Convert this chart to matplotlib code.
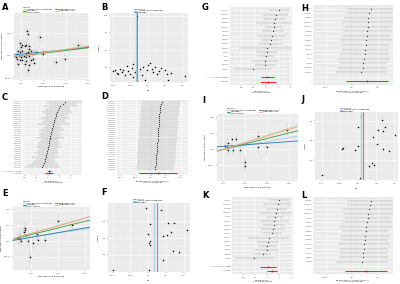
import numpy as np
import matplotlib.pyplot as plt
from matplotlib.ticker import AutoMinorLocator

# ---------------- data ----------------
methods = ["Inverse variance weighted", "MR Egger", "Simple mode",
           "Weighted median", "Weighted mode"]
method_cols = ["#a6cee3", "#1f78b4", "#b2df8a", "#33a02c", "#fb9a99"]

# A: scatter (SNP effects)
a_x = [0.005, 0.006, 0.017, -0.001, 0.001, 0.003, 0.004, 0.000, 0.007, 0.007,
       -0.003, -0.001, 0.001, 0.004, 0.006, 0.009, -0.004, -0.002, 0.000, 0.002,
       0.004, 0.007, 0.010, -0.004, -0.001, 0.001, 0.004, 0.009, 0.010, -0.003,
       0.003, 0.007, 0.011, 0.019, 0.031, 0.039, 0.051, 0.013, -0.005, 0.006]
a_y = [0.022, 0.019, 0.017, 0.011, 0.010, 0.009, 0.010, 0.0075, 0.009, 0.006,
       0.0046, 0.0032, 0.0046, 0.0023, 0.0032, 0.0046, 0.0017, 0.0003, -0.0012, 0.0003,
       -0.0012, 0.0003, 0.0017, -0.0026, -0.004, -0.0035, -0.0049, -0.004, -0.0026, -0.007,
       -0.0075, -0.0084, -0.0064, 0.0017, -0.0055, -0.0026, 0.010, 0.0032, -0.0012, -0.0128]
a_sx = [0.002, 0.002, 0.003, 0.002, 0.002, 0.002, 0.002, 0.002, 0.002, 0.002,
        0.002, 0.002, 0.002, 0.002, 0.002, 0.003, 0.002, 0.002, 0.002, 0.002,
        0.002, 0.002, 0.003, 0.002, 0.002, 0.002, 0.002, 0.002, 0.003, 0.002,
        0.002, 0.002, 0.003, 0.003, 0.004, 0.004, 0.005, 0.003, 0.002, 0.002]
a_sy = [0.004, 0.005, 0.005, 0.004, 0.004, 0.003, 0.004, 0.004, 0.003, 0.004,
        0.003, 0.004, 0.003, 0.004, 0.003, 0.004, 0.004, 0.003, 0.004, 0.003,
        0.004, 0.003, 0.004, 0.004, 0.003, 0.004, 0.003, 0.004, 0.003, 0.004,
        0.003, 0.004, 0.003, 0.004, 0.004, 0.004, 0.004, 0.003, 0.004, 0.005]
a_slopes = [0.13, 0.10, 0.15, 0.12, 0.14]
a_egger_int = 0.0015

# B: funnel
b_iv = [-0.32, -1.01, -0.94, -0.89, -0.85, -0.80, -0.75, -0.70, -0.65, -0.61,
        -0.56, -0.51, -0.46, -0.41, -0.37, -0.41, -0.22, -0.17, -0.13, -0.08,
        -0.03, 0.02, 0.07, 0.12, 0.16, 0.21, 0.26, 0.34, 0.40, 0.50,
        0.55, 0.60, 0.69, 1.08]
b_prec = [99, 19.7, 21, 17.3, 15.4, 23.6, 18.8, 22, 14, 27.4,
          20.2, 16.3, 24.5, 30.8, 18.8, 11.5, 23.6, 14, 26, 7,
          21, 28.4, 32, 23.6, 18.8, 26, 16.3, 20, 24.5, 21,
          16.3, 7, 17.3, 12.5]
b_ivw, b_egger = -0.34, -0.30

# C: forest (single SNP)
c_snps = ["rs10069690", "rs1027498", "rs11085727", "rs11204971", "rs11574637",
          "rs12051795", "rs12422149", "rs12627379", "rs13107325", "rs1354034",
          "rs1412445", "rs1552224", "rs16937368", "rs17514846", "rs1800562",
          "rs2075650", "rs2229616", "rs2476601", "rs2651899", "rs2815279",
          "rs3184504", "rs34536443", "rs3764261", "rs4246215", "rs4420638",
          "rs4665972", "rs4788084", "rs6060701", "rs6546932", "rs6930777",
          "rs7310615", "rs7528684", "rs9271366", "rs9974367"]
c_b = [1.52, 1.30, 1.12, 1.00, 0.90, 0.82, 0.75, 0.69, 0.63, 0.58,
       0.53, 0.48, 0.44, 0.40, 0.36, 0.32, 0.28, 0.25, 0.22, 0.18,
       0.15, 0.12, 0.08, 0.05, 0.02, -0.02, -0.06, -0.10, -0.15, -0.20,
       -0.25, -0.30, -0.38, -0.45]
c_ci = [1.6, 1.2, 1.4, 0.9, 1.1, 1.3, 1.0, 0.8, 1.2, 0.9,
        1.0, 1.4, 0.7, 0.9, 1.1, 0.8, 1.0, 0.9, 1.2, 0.7,
        0.8, 1.0, 0.9, 1.1, 0.8, 0.9, 1.0, 0.7, 1.2, 0.8,
        0.9, 1.1, 1.3, 1.5]
sum_names = ["All - Inverse variance weighted", "All - MR Egger"]
c_sum_b = [0.15, 0.08]
c_sum_ci = [0.15, 0.35]

# D: leave-one-out
d_snps = c_snps
d_b = [0.072, 0.066, 0.064, 0.062, 0.061, 0.060, 0.058, 0.057, 0.056, 0.055,
       0.054, 0.053, 0.052, 0.051, 0.050, 0.049, 0.048, 0.047, 0.046, 0.045,
       0.044, 0.043, 0.042, 0.041, 0.040, 0.039, 0.038, 0.037, 0.036, 0.035,
       0.034, 0.032, 0.030, 0.028]
d_ci = [0.128, 0.125, 0.126, 0.124, 0.127, 0.125, 0.126, 0.124, 0.125, 0.126,
        0.127, 0.125, 0.124, 0.126, 0.125, 0.127, 0.126, 0.124, 0.125, 0.126,
        0.125, 0.127, 0.124, 0.126, 0.125, 0.126, 0.124, 0.127, 0.125, 0.126,
        0.125, 0.124, 0.126, 0.127]
d_all_b, d_all_ci = 0.046, 0.125

# E: scatter
e_x = [0.025, 0.0294, 0.0313, 0.0356, 0.0375, 0.0388, 0.0394, 0.0438, 0.0469, 0.0531,
       0.0594, 0.0625, 0.075, 0.10, 0.125, 0.0281]
e_y = [0.0021, 0.0034, 0.0, 0.006, 0.0085, 0.007, 0.0038, 0.0, -0.010, -0.0009,
       0.0049, 0.0006, 0.0006, 0.0128, 0.0102, 0.0013]
e_sx = [0.003, 0.003, 0.003, 0.003, 0.003, 0.003, 0.003, 0.003, 0.004, 0.003,
        0.004, 0.004, 0.004, 0.005, 0.006, 0.003]
e_sy = [0.004, 0.004, 0.003, 0.004, 0.004, 0.003, 0.004, 0.003, 0.005, 0.004,
        0.004, 0.003, 0.004, 0.005, 0.005, 0.004]
e_slopes = [0.052, 0.06, 0.10, 0.085, 0.098]
e_egger_int = -0.0005

# F: funnel
f_iv = [-0.99, -0.066, 0.028, 0.047, 0.0, 0.019, 0.047, 0.066, 0.377, 0.425,
        0.406, 0.519, 0.566, 0.632, 0.726, 0.708, 0.868, 1.10]
f_prec = [2, 76, 2, 56.8, 44.8, 34, 32, 36, 74, 14,
          42, 43.2, 58, 46.8, 58, 25.2, 24, 50]
f_ivw, f_egger = 0.17, 0.255

# G: forest
g_snps = ["rs10774625", "rs11066301", "rs1260326", "rs13230625", "rs16940212",
          "rs2019960", "rs2230806", "rs3802177", "rs4665630", "rs5751901",
          "rs653178", "rs7412", "rs780094", "rs8103309", "rs9897794"]
g_b = [1.07, 0.80, 0.75, 0.67, 0.67, 0.59, 0.48, 0.40, 0.35, 0.13,
       0.08, 0.00, -0.05, -0.08, -1.07]
g_ci = [0.8, 1.0, 0.9, 1.5, 0.7, 0.9, 1.2, 0.8, 1.0, 2.3,
        0.9, 0.7, 1.1, 0.8, 1.6]
g_sum_b = [0.13, 0.18]
g_sum_ci = [0.5, 0.65]

# H: leave-one-out
h_snps = g_snps
h_b = [0.150, 0.135, 0.130, 0.128, 0.125, 0.120, 0.115, 0.110, 0.108, 0.105,
       0.100, 0.095, 0.090, 0.085, 0.075]
h_ci = [0.19, 0.18, 0.19, 0.20, 0.18, 0.19, 0.18, 0.20, 0.19, 0.18,
        0.19, 0.20, 0.18, 0.19, 0.20]
h_all_b, h_all_ci = 0.118, 0.16

# I: scatter
i_x = [0.0045, 0.011, 0.020, 0.030, 0.009, 0.011, 0.023, 0.039, 0.080, 0.100,
       0.145, 0.050, 0.050, 0.080]
i_y = [0.0025, 0.0044, 0.0069, 0.0069, 0.0013, -0.0006, -0.0006, -0.0006, 0.0013, 0.0013,
       0.0125, -0.0081, -0.0106, 0.0088]
i_sx = [0.002, 0.002, 0.003, 0.003, 0.002, 0.002, 0.003, 0.003, 0.004, 0.004,
        0.005, 0.003, 0.003, 0.004]
i_sy = [0.003, 0.003, 0.004, 0.003, 0.003, 0.003, 0.003, 0.004, 0.004, 0.004,
        0.004, 0.004, 0.004, 0.003]
i_slopes = [0.05, 0.02, 0.09, 0.07, 0.085]
i_egger_int = 0.002

# J: funnel
j_iv = [0.08, 0.0, 0.66, 0.74, 0.55, 0.68, 0.41, 1.01, -0.41, -0.44,
        0.0, -0.08, 0.52, 0.68, 0.85, 0.38, 0.44, 0.30, -0.99, 0.05]
j_prec = [49.3, 40.4, 45.6, 40.4, 38.2, 37.5, 33.1, 34.6, 24.3, 23.5,
          25.7, 22.8, 27.2, 23.5, 22, 13.2, 11.8, 11, 3.7, 1.5]
j_ivw, j_egger = 0.08, 0.14

# K: forest
k_snps = ["rs1047891", "rs11591147", "rs1169288", "rs12740374", "rs174546",
          "rs1800961", "rs2000999", "rs2254287", "rs2954029", "rs3136441",
          "rs4299376", "rs646776", "rs7703051", "rs838880", "rs964184"]
k_b = [1.01, 0.85, 0.80, 0.75, 0.67, 0.59, 0.53, 0.48, 0.40, 0.13,
       0.08, 0.00, 0.00, -0.40, -1.07]
k_ci = [0.9, 1.1, 0.8, 1.4, 0.7, 1.2, 0.9, 1.0, 0.8, 1.7,
        0.9, 0.8, 1.0, 0.7, 1.6]
k_sum_b = [0.08, 0.40]
k_sum_ci = [0.66, 0.40]

# L: leave-one-out
l_snps = k_snps
l_b = [0.150, 0.140, 0.135, 0.130, 0.125, 0.120, 0.112, 0.108, 0.105, 0.100,
       0.097, 0.093, 0.090, 0.088, 0.080]
l_ci = [0.19, 0.18, 0.20, 0.19, 0.18, 0.19, 0.20, 0.18, 0.19, 0.18,
        0.20, 0.19, 0.18, 0.19, 0.20]
l_all_b, l_all_ci = 0.11, 0.16

FS = 1.6
LFS = 1.4  # legend text


def gg(ax):
    ax.set_facecolor("#EBEBEB")
    for s in ax.spines.values():
        s.set_visible(False)
    ax.grid(True, which="major", color="white", lw=0.45)
    ax.set_axisbelow(True)
    ax.tick_params(labelsize=FS, length=1, width=0.3, colors="#4D4D4D", pad=0.8)
    ax.tick_params(which="minor", length=0)


def minor_grid(ax, axis="both"):
    if axis in ("both", "x"):
        ax.xaxis.set_minor_locator(AutoMinorLocator(2))
        ax.grid(True, which="minor", axis="x", color="white", lw=0.2)
    if axis in ("both", "y"):
        ax.yaxis.set_minor_locator(AutoMinorLocator(2))
        ax.grid(True, which="minor", axis="y", color="white", lw=0.2)


def legend_top(ax, title, x0):
    ax.legend(loc="lower left", bbox_to_anchor=(x0, 1.0), ncol=2, fontsize=LFS,
              title=title, title_fontsize=LFS, frameon=False, alignment="left",
              handlelength=1.6, handleheight=0.4, columnspacing=1.5,
              labelspacing=0.12, borderpad=0.05, borderaxespad=0.1, handletextpad=0.5)


def scatter_panel(ax, x, y, sx, sy, slopes, eint, xlim, ylim, xt, yt, xlab):
    gg(ax)
    ax.errorbar(x, y, xerr=sx, yerr=sy, fmt="none", ecolor="#BEBEBE", elinewidth=0.3)
    ax.plot(x, y, "o", ms=1.1, color="black", mew=0)
    xs = np.array(xlim)
    for m, c, s in zip(methods, method_cols, slopes):
        b0 = eint if m == "MR Egger" else 0.0
        ax.plot(xs, b0 + s * xs, color=c, lw=0.6, label=m)
    ax.set_xlim(xlim)
    ax.set_ylim(ylim)
    ax.set_xticks(xt)
    ax.set_yticks(yt)
    minor_grid(ax)
    ax.set_xlabel(xlab, fontsize=FS, labelpad=1)
    ax.set_ylabel("SNP effect on outcome", fontsize=FS, labelpad=1)
    legend_top(ax, "MR Test", 0.12)


def funnel_panel(ax, iv, prec, ivw, egger, xlim, ylim, xt, yt):
    gg(ax)
    ax.plot(iv, prec, "o", ms=1.1, color="black", mew=0)
    ax.axvline(ivw, color=method_cols[0], lw=0.9, label=methods[0])
    ax.axvline(egger, color=method_cols[1], lw=0.5, label=methods[1])
    ax.set_xlim(xlim)
    ax.set_ylim(ylim)
    ax.set_xticks(xt)
    ax.set_yticks(yt)
    minor_grid(ax)
    ax.set_xlabel(r"$\beta_{IV}$", fontsize=FS, labelpad=1)
    ax.set_ylabel(r"$1/SE_{IV}$", fontsize=FS, labelpad=1)
    ax.legend(loc="lower left", bbox_to_anchor=(0.3, 1.0), ncol=1, fontsize=LFS,
              title="MR Method", title_fontsize=LFS, frameon=False, alignment="left",
              handlelength=1.6, handleheight=0.4, labelspacing=0.12,
              borderpad=0.05, borderaxespad=0.1, handletextpad=0.5)


def forest_panel(ax, snps, b, ci, snames, sb, sci, xlim, xt, xlab, lfs, sfs):
    gg(ax)
    n, k = len(snps), len(snames)
    ys = np.arange(n)[::-1] + k + 1
    ys2 = np.arange(k)[::-1]
    ax.axvline(0, color="#999999", ls=":", lw=0.3)
    ax.errorbar(b, ys, xerr=ci, fmt="o", ms=0.9, color="#333333", mew=0,
                elinewidth=0.2, ecolor="#666666")
    ax.errorbar(sb, ys2, xerr=sci, fmt="o", ms=1.3, color="red", mew=0, elinewidth=0.6)
    ax.set_yticks(list(ys) + [k] + list(ys2))
    labs = ax.set_yticklabels(list(snps) + [""] + list(snames), fontsize=lfs)
    for t in labs[n + 1:]:
        t.set_fontsize(sfs)
    ax.tick_params(axis="y", length=0, pad=0.6)
    ax.set_ylim(-0.8, n + k + 0.8)
    ax.set_xlim(xlim)
    ax.set_xticks(xt)
    minor_grid(ax, "x")
    ax.set_xlabel(xlab, fontsize=1.2, labelpad=0.6)


fig = plt.figure(figsize=(4, 2.84), dpi=100)


def box(x0, y0, x1, y1):
    return [x0 / 400, 1 - y1 / 284, (x1 - x0) / 400, (y1 - y0) / 284]


forest_lab = "MR effect size for\n'exposure' on 'outcome'"
loo_lab = "MR leave-one-out sensitivity analysis for\n'exposure' on 'outcome'"

ax = fig.add_axes(box(14, 13, 89, 80))
scatter_panel(ax, a_x, a_y, a_sx, a_sy, a_slopes, a_egger_int,
              (-0.0066, 0.0605), (-0.0214, 0.038), [0.0, 0.02, 0.04, 0.06],
              [-0.02, 0.0, 0.02], "SNP effect on exposure")

ax = fig.add_axes(box(110, 13, 188, 82))
funnel_panel(ax, b_iv, b_prec, b_ivw, b_egger, (-1.09, 1.17), (4.3, 103.8),
             [-1, -0.5, 0, 0.5, 1], [25, 50, 75, 100])

ax = fig.add_axes(box(23, 100, 82, 175))
forest_panel(ax, c_snps, c_b, c_ci, sum_names, c_sum_b, c_sum_ci,
             (-2.15, 3.0), [-2, -1, 0, 1, 2], forest_lab, 1.1, 0.7)

ax = fig.add_axes(box(117, 100, 188, 175))
forest_panel(ax, d_snps, d_b, d_ci, ["All"], [d_all_b], [d_all_ci],
             (-0.222, 0.246), [-0.2, -0.1, 0, 0.1, 0.2], loo_lab, 1.1, 1.1)

ax = fig.add_axes(box(13, 207, 90, 270))
scatter_panel(ax, e_x, e_y, e_sx, e_sy, e_slopes, e_egger_int,
              (0.0156, 0.159), (-0.0185, 0.0219), [0.05, 0.10, 0.15],
              [-0.01, 0.0, 0.01, 0.02], "SNP effect on exposure")

ax = fig.add_axes(box(108, 203, 190, 272))
funnel_panel(ax, f_iv, f_prec, f_ivw, f_egger, (-1.13, 1.18), (-0.5, 82),
             [-1, -0.5, 0, 0.5, 1], [20, 40, 60])

ax = fig.add_axes(box(230, 7, 292, 85))
forest_panel(ax, g_snps, g_b, g_ci, sum_names, g_sum_b, g_sum_ci,
             (-2.93, 2.13), [-2, -1, 0, 1, 2], forest_lab, 0.9, 0.8)

ax = fig.add_axes(box(313, 5, 393, 85))
forest_panel(ax, h_snps, h_b, h_ci, ["All"], [h_all_b], [h_all_ci],
             (-0.30, 0.32), [-0.2, 0.0, 0.2], loo_lab, 1.0, 1.0)

ax = fig.add_axes(box(217, 114, 298, 181))
scatter_panel(ax, i_x, i_y, i_sx, i_sy, i_slopes, i_egger_int,
              (-0.0136, 0.17), (-0.02, 0.0225), [0.0, 0.05, 0.10, 0.15],
              [-0.01, 0.0, 0.01, 0.02], "SNP effect on exposure")

ax = fig.add_axes(box(315, 112, 398, 180))
funnel_panel(ax, j_iv, j_prec, j_ivw, j_egger, (-1.18, 1.10), (0, 52),
             [-1, -0.5, 0, 0.5, 1], [15, 30, 45])

ax = fig.add_axes(box(232, 197, 293, 274))
forest_panel(ax, k_snps, k_b, k_ci, sum_names, k_sum_b, k_sum_ci,
             (-2.93, 2.13), [-2, -1, 0, 1, 2], forest_lab, 0.9, 0.8)

ax = fig.add_axes(box(313, 197, 393, 274))
forest_panel(ax, l_snps, l_b, l_ci, ["All"], [l_all_b], [l_all_ci],
             (-0.30, 0.32), [-0.2, 0.0, 0.2], loo_lab, 1.0, 1.0)

# panel letters
letters = ["A", "B", "C", "D", "E", "F", "G", "H", "I", "J", "K", "L"]
letter_pos = [(2, 3), (101, 3), (2, 93), (101, 92), (2, 189), (101, 188),
              (202, 3), (301, 4), (202, 96), (301, 95), (202, 191), (301, 191)]
for t, (px, py) in zip(letters, letter_pos):
    fig.text(px / 400, 1 - py / 284, t, fontsize=6, fontweight="bold", va="top", ha="left")

fig.savefig("out.png", dpi=100)
